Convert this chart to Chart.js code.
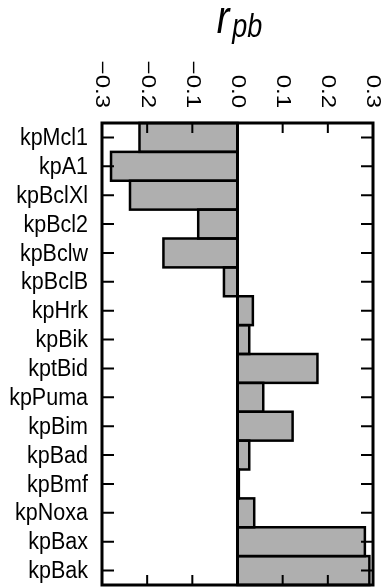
<!DOCTYPE html>
<html>
<head>
<meta charset="utf-8">
<script src="https://cdn.jsdelivr.net/npm/chart.js@4.4.0/dist/chart.umd.min.js"></script>
<style>
  body { margin: 0; background: #fff; }
</style>
</head>
<body>
<canvas id="chart" width="385" height="588"></canvas>
<script>
// parameters, top to bottom
const params = ["kpMcl1", "kpA1", "kpBclXl", "kpBcl2", "kpBclw", "kpBclB", "kpHrk", "kpBik",
  "kptBid", "kpPuma", "kpBim", "kpBad", "kpBmf", "kpNoxa", "kpBax", "kpBak"];
// point-biserial correlation for each parameter
const rpb = [-0.217, -0.28, -0.238, -0.087, -0.164, -0.030, 0.034, 0.026,
  0.177, 0.057, 0.122, 0.026, 0.003, 0.037, 0.282, 0.292];
// x axis ticks
const xTicks = [-0.3, -0.2, -0.1, 0.0, 0.1, 0.2, 0.3];
const xTickLabels = ["\u22120.3", "\u22120.2", "\u22120.1", "0.0", "0.1", "0.2", "0.3"];

const FONT = "'Liberation Sans', Arial, sans-serif";
const STRETCH = 1.2; // the original figure text is a bit taller than wide

// frame, inward ticks, bar outlines, tick labels and title
const framePlugin = {
  id: "frame",
  afterDatasetsDraw(chart) {
    const ctx = chart.ctx;
    const area = chart.chartArea;
    const xs = chart.scales.x;
    const ys = chart.scales.y;
    ctx.save();
    ctx.strokeStyle = "#000";

    // bar outlines (centred stroke)
    ctx.lineWidth = 2.5;
    chart.getDatasetMeta(0).data.forEach(bar => {
      const x0 = Math.min(bar.x, bar.base);
      const w = Math.abs(bar.x - bar.base);
      ctx.strokeRect(x0, bar.y - bar.height / 2, w, bar.height);
    });

    // zero line
    const zx = xs.getPixelForValue(0);
    ctx.lineWidth = 3;
    ctx.beginPath();
    ctx.moveTo(zx, area.top);
    ctx.lineTo(zx, area.bottom);
    ctx.stroke();

    // ticks pointing inward
    ctx.lineWidth = 2;
    ctx.beginPath();
    xTicks.forEach(v => {
      const px = xs.getPixelForValue(v);
      ctx.moveTo(px, area.top);
      ctx.lineTo(px, area.top + 10);
      ctx.moveTo(px, area.bottom);
      ctx.lineTo(px, area.bottom - 10);
    });
    params.forEach((p, i) => {
      const py = ys.getPixelForValue(i);
      ctx.moveTo(area.left, py);
      ctx.lineTo(area.left + 12, py);
      ctx.moveTo(area.right, py);
      ctx.lineTo(area.right - 12, py);
    });
    ctx.stroke();

    // frame
    ctx.lineWidth = 3;
    ctx.strokeRect(area.left, area.top, area.right - area.left, area.bottom - area.top);

    ctx.fillStyle = "#000";

    // category labels on the left
    ctx.font = "21.5px " + FONT;
    ctx.textAlign = "right";
    ctx.textBaseline = "middle";
    params.forEach((p, i) => {
      ctx.save();
      ctx.translate(area.left - 14, ys.getPixelForValue(i) + 1);
      ctx.scale(1, 1.12);
      ctx.fillText(p, 0, 0);
      ctx.restore();
    });

    // rotated x tick labels above the plot
    ctx.font = "20px " + FONT;
    xTicks.forEach((v, i) => {
      ctx.save();
      ctx.translate(xs.getPixelForValue(v), 108);
      ctx.rotate(Math.PI / 2);
      ctx.scale(STRETCH, 1);
      ctx.fillText(xTickLabels[i], 0, 0);
      ctx.restore();
    });

    // title r_pb
    const cx = (area.left + area.right) / 2;
    ctx.textAlign = "left";
    ctx.textBaseline = "alphabetic";
    ctx.font = "italic 38px " + FONT;
    const rw = ctx.measureText("r").width;
    ctx.font = "italic 27px " + FONT;
    const sw = ctx.measureText("pb").width;
    const left = cx - (rw + 3 + sw) / 2 + 2;
    ctx.save();
    ctx.translate(left, 33);
    ctx.scale(1, STRETCH);
    ctx.font = "italic 38px " + FONT;
    ctx.fillText("r", 0, 0);
    ctx.restore();
    ctx.save();
    ctx.translate(left + rw + 3, 37);
    ctx.scale(1, STRETCH);
    ctx.font = "italic 27px " + FONT;
    ctx.fillText("pb", 0, 0);
    ctx.restore();
    ctx.restore();
  }
};

new Chart(document.getElementById("chart"), {
  type: "bar",
  plugins: [framePlugin],
  data: {
    labels: params,
    datasets: [{
      data: rpb,
      backgroundColor: "#afafaf",
      borderWidth: 0,
      barPercentage: 1,
      categoryPercentage: 1
    }]
  },
  options: {
    indexAxis: "y",
    responsive: false,
    animation: false,
    layout: { padding: { top: 123, right: 12, bottom: 3, left: 102 } },
    plugins: {
      legend: { display: false },
      tooltip: { enabled: false }
    },
    scales: {
      x: { display: false, min: -0.3, max: 0.3 },
      y: { display: false }
    }
  }
});
</script>
</body>
</html>
